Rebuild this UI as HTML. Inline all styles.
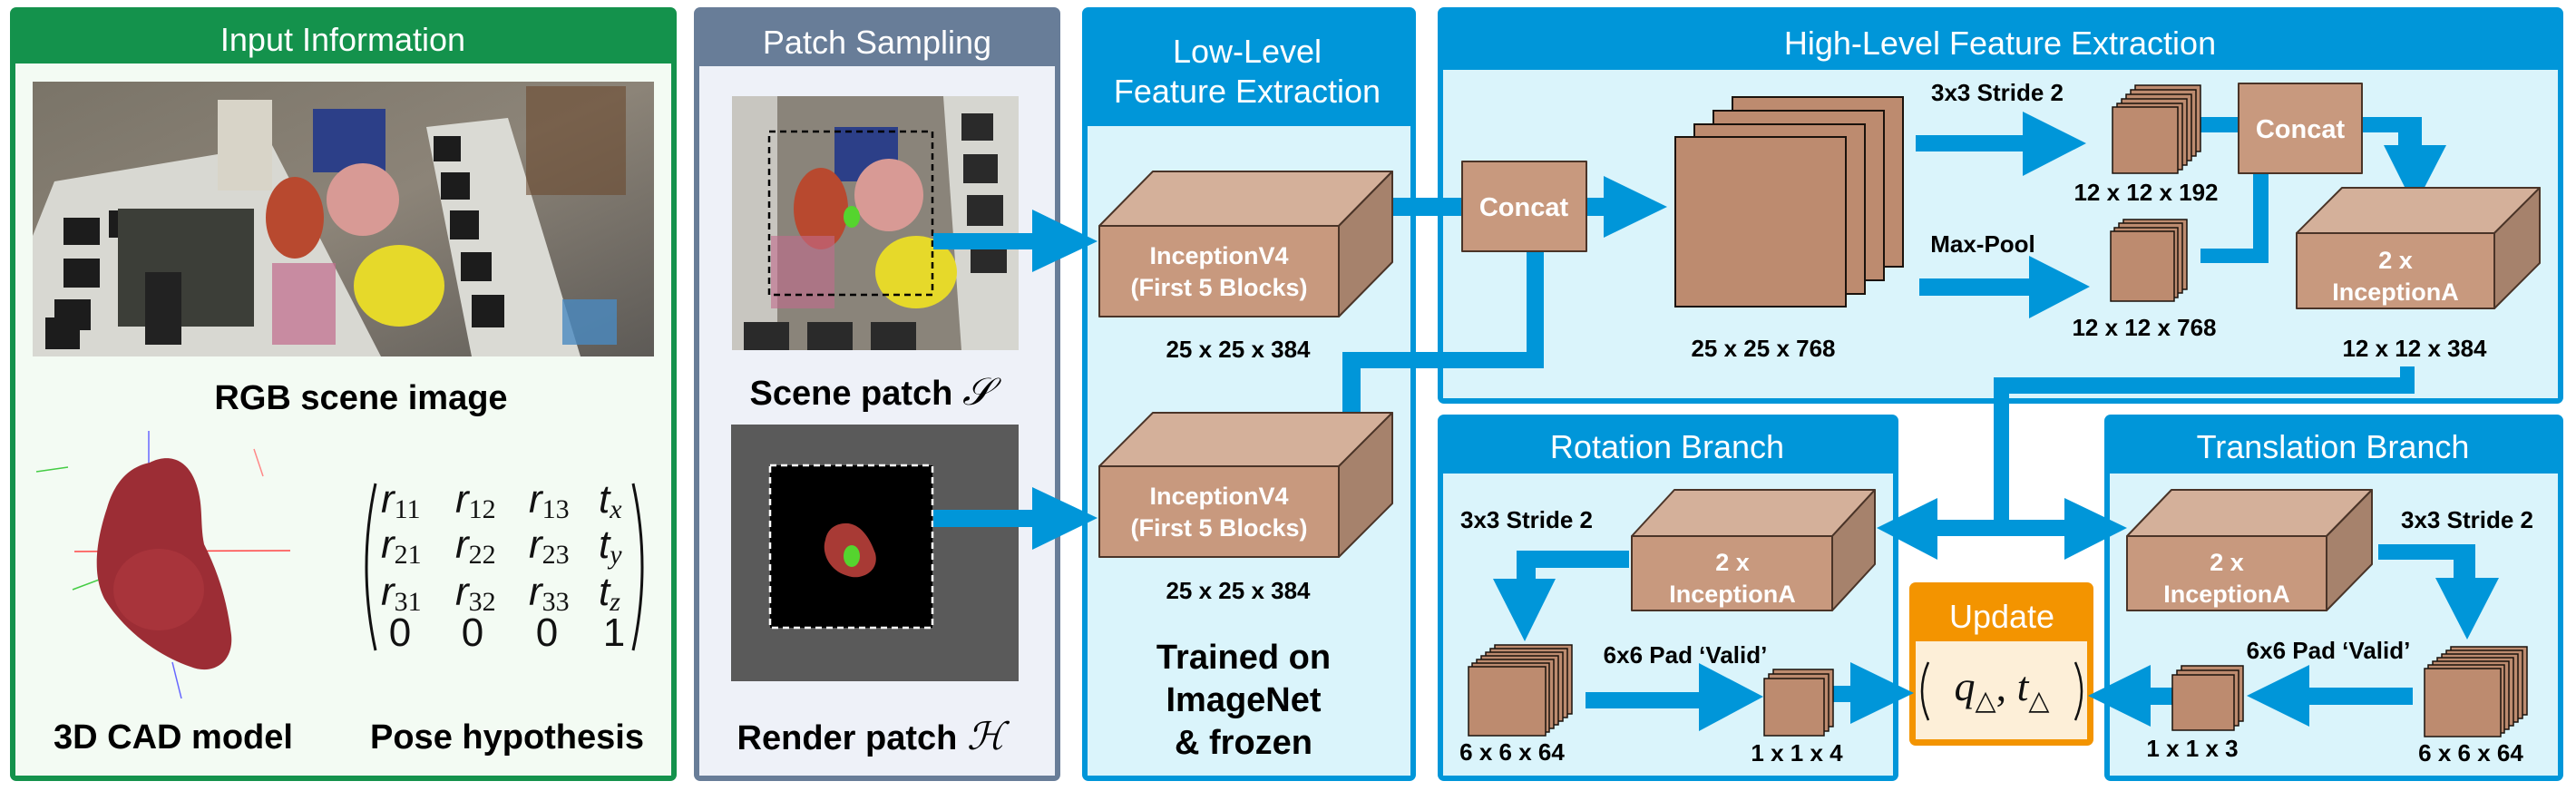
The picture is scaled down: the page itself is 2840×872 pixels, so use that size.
<!DOCTYPE html>
<html><head><meta charset="utf-8"><style>
html,body{margin:0;padding:0;background:#fff;}
svg{display:block;}
text{font-family:"Liberation Sans",Arial,sans-serif;}
.serif,.serif tspan{font-family:"Liberation Serif","DejaVu Serif",serif;}
</style></head><body>
<svg width="2840" height="872" viewBox="0 0 2840 872" xmlns="http://www.w3.org/2000/svg">
<!-- PANELS -->
<rect x="11" y="8" width="735" height="853" rx="7" fill="#14924c"/>
<rect x="17" y="70" width="723" height="785" fill="#f3fbf3"/>
<text x="378" y="56" font-size="36" fill="#fff" text-anchor="middle">Input Information</text>

<rect x="765" y="8" width="404" height="853" rx="7" fill="#687d98"/>
<rect x="771" y="73" width="392" height="782" fill="#eef1f8"/>
<text x="967" y="59" font-size="36" fill="#fff" text-anchor="middle">Patch Sampling</text>

<rect x="1193" y="8" width="368" height="853" rx="7" fill="#0096d9"/>
<rect x="1199" y="139" width="356" height="716" fill="#daf4fb"/>
<text x="1375" y="69" font-size="36" fill="#fff" text-anchor="middle">Low-Level</text>
<text x="1375" y="113" font-size="36" fill="#fff" text-anchor="middle">Feature Extraction</text>

<rect x="1585" y="8" width="1241" height="437" rx="7" fill="#0096d9"/>
<rect x="1591" y="77" width="1229" height="362" fill="#daf4fb"/>
<text x="2205" y="60" font-size="36" fill="#fff" text-anchor="middle">High-Level Feature Extraction</text>

<rect x="1585" y="457" width="508" height="404" rx="7" fill="#0096d9"/>
<rect x="1591" y="522" width="496" height="333" fill="#daf4fb"/>
<text x="1838" y="505" font-size="36" fill="#fff" text-anchor="middle">Rotation Branch</text>

<rect x="2320" y="457" width="506" height="404" rx="7" fill="#0096d9"/>
<rect x="2326" y="522" width="494" height="333" fill="#daf4fb"/>
<text x="2572" y="505" font-size="36" fill="#fff" text-anchor="middle">Translation Branch</text>

<rect x="2105" y="642" width="203" height="180" rx="7" fill="#f39400"/>
<rect x="2112" y="707" width="189" height="108" fill="#fdefd8"/>
<text x="2207" y="692" font-size="36" fill="#fff" text-anchor="middle">Update</text>
<path d="M2126,730 Q2112,762 2126,794" stroke="#111" stroke-width="2.5" fill="none"/>
<path d="M2288,730 Q2302,762 2288,794" stroke="#111" stroke-width="2.5" fill="none"/>
<text class="serif" x="2207" y="772" font-size="46" fill="#111" text-anchor="middle" font-style="italic">q<tspan font-size="30" font-style="normal" dy="10">△</tspan><tspan dy="-10" font-style="normal">, </tspan>t<tspan font-size="30" font-style="normal" dy="10">△</tspan></text>

<!-- INPUT: photo -->
<defs>
<linearGradient id="ph" x1="0" y1="0" x2="1" y2="1"><stop offset="0" stop-color="#7a7468"/><stop offset=".5" stop-color="#8c8478"/><stop offset="1" stop-color="#5d5a56"/></linearGradient>
</defs>
<rect x="36" y="90" width="685" height="303" fill="url(#ph)"/>
<polygon points="60,200 300,160 420,393 36,393 36,260" fill="#d8d8d2"/>
<polygon points="470,140 560,130 640,393 520,393" fill="#dadad4"/>
<g fill="#1c1c1c">
<rect x="70" y="240" width="40" height="30"/><rect x="120" y="232" width="40" height="30"/><rect x="70" y="285" width="40" height="32"/><rect x="60" y="330" width="40" height="34"/><rect x="50" y="350" width="38" height="35"/>
<rect x="478" y="150" width="30" height="28"/><rect x="486" y="190" width="32" height="30"/><rect x="496" y="232" width="32" height="32"/><rect x="508" y="278" width="34" height="32"/><rect x="520" y="325" width="36" height="36"/>
</g>
<rect x="130" y="230" width="150" height="130" fill="#3c3e38"/>
<rect x="160" y="300" width="40" height="80" fill="#222"/>
<rect x="240" y="110" width="60" height="100" fill="#d8d4c8"/>
<rect x="345" y="120" width="80" height="70" fill="#2c3f88"/>
<ellipse cx="325" cy="240" rx="32" ry="45" fill="#b8492f"/>
<ellipse cx="400" cy="220" rx="40" ry="40" fill="#d89a95"/>
<ellipse cx="440" cy="315" rx="50" ry="45" fill="#e6d92a"/>
<rect x="300" y="290" width="70" height="90" fill="#c26b8c" opacity=".7"/>
<rect x="580" y="95" width="110" height="120" fill="#6b4a2e" opacity=".6"/>
<rect x="620" y="330" width="60" height="50" fill="#4a8ac0" opacity=".8"/>
<text x="398" y="451" font-size="38" font-weight="bold" fill="#000" text-anchor="middle">RGB scene image</text>

<!-- CAD model -->
<g stroke-width="1.5" fill="none">
<line x1="164" y1="475" x2="164" y2="580" stroke="#66f"/>
<line x1="80" y1="650" x2="200" y2="605" stroke="#4c4"/>
<line x1="82" y1="608" x2="320" y2="607" stroke="#f44"/>
<line x1="40" y1="520" x2="75" y2="515" stroke="#4c4"/>
<line x1="190" y1="730" x2="200" y2="770" stroke="#66f"/>
<line x1="280" y1="495" x2="290" y2="525" stroke="#f88"/>
</g>
<path d="M165,510 C185,500 205,505 215,530 C225,555 220,575 225,600 C240,630 250,660 255,700 C258,730 235,745 210,735 C180,725 140,700 115,660 C100,630 108,590 118,560 C125,535 140,515 165,510 Z" fill="#9c2d35"/>
<ellipse cx="175" cy="650" rx="50" ry="45" fill="#a8343b"/>

<!-- matrix -->
<path d="M414,533 Q394,625 414,717" stroke="#111" stroke-width="3" fill="none"/>
<path d="M698,533 Q718,625 698,717" stroke="#111" stroke-width="3" fill="none"/>
<g class="serif" font-size="44" fill="#111">
<g font-style="italic">
<text x="420" y="565">r<tspan font-size="30" font-style="normal" dy="6">11</tspan></text>
<text x="502" y="565">r<tspan font-size="30" font-style="normal" dy="6">12</tspan></text>
<text x="583" y="565">r<tspan font-size="30" font-style="normal" dy="6">13</tspan></text>
<text x="660" y="565">t<tspan font-size="30" dy="6">x</tspan></text>
<text x="420" y="615">r<tspan font-size="30" font-style="normal" dy="6">21</tspan></text>
<text x="502" y="615">r<tspan font-size="30" font-style="normal" dy="6">22</tspan></text>
<text x="583" y="615">r<tspan font-size="30" font-style="normal" dy="6">23</tspan></text>
<text x="660" y="615">t<tspan font-size="30" dy="6">y</tspan></text>
<text x="420" y="667">r<tspan font-size="30" font-style="normal" dy="6">31</tspan></text>
<text x="502" y="667">r<tspan font-size="30" font-style="normal" dy="6">32</tspan></text>
<text x="583" y="667">r<tspan font-size="30" font-style="normal" dy="6">33</tspan></text>
<text x="660" y="667">t<tspan font-size="30" dy="6">z</tspan></text>
</g>
<g text-anchor="middle"><text x="441" y="712">0</text><text x="521" y="712">0</text><text x="603" y="712">0</text><text x="677" y="712">1</text></g>
</g>
<text x="191" y="825" font-size="38" font-weight="bold" text-anchor="middle">3D CAD model</text>
<text x="559" y="825" font-size="38" font-weight="bold" text-anchor="middle">Pose hypothesis</text>

<!-- Patch sampling -->
<rect x="807" y="106" width="316" height="280" fill="#8a847a"/>
<rect x="807" y="106" width="50" height="280" fill="#c8c6c0"/>
<polygon points="1040,106 1123,106 1123,386 1060,386" fill="#d6d6d0"/>
<g fill="#2a2a2a"><rect x="1060" y="125" width="35" height="30"/><rect x="1062" y="170" width="38" height="32"/><rect x="1066" y="215" width="40" height="34"/><rect x="1070" y="265" width="40" height="36"/><rect x="820" y="355" width="50" height="31"/><rect x="890" y="355" width="50" height="31"/><rect x="960" y="355" width="50" height="31"/></g>
<rect x="920" y="140" width="70" height="60" fill="#2c3f88"/>
<ellipse cx="905" cy="230" rx="30" ry="45" fill="#b8492f"/>
<ellipse cx="980" cy="215" rx="38" ry="40" fill="#d89a95"/>
<ellipse cx="1010" cy="300" rx="45" ry="40" fill="#e6d92a"/>
<rect x="850" y="260" width="70" height="80" fill="#c26b8c" opacity=".6"/>
<rect x="848" y="145" width="180" height="180" fill="none" stroke="#000" stroke-width="2.5" stroke-dasharray="7,5"/>
<ellipse cx="939" cy="239" rx="9" ry="12" fill="#55d42e"/>
<text x="960" y="446" font-size="38" font-weight="bold" text-anchor="middle">Scene patch <tspan class="serif" font-style="italic" font-weight="normal" font-size="42">𝒮</tspan></text>

<rect x="806" y="468" width="317" height="283" fill="#5a5a5a"/>
<rect x="849" y="513" width="179" height="179" fill="#000" stroke="#fff" stroke-width="2.5" stroke-dasharray="7,5"/>
<path d="M925,578 C945,572 958,590 965,610 C970,630 950,640 935,635 C915,630 905,610 910,595 C912,585 918,580 925,578Z" fill="#a83a35"/>
<ellipse cx="939" cy="613" rx="9" ry="12" fill="#55d42e"/>
<text x="960" y="826" font-size="38" font-weight="bold" text-anchor="middle">Render patch <tspan class="serif" font-style="italic" font-weight="normal" font-size="42">ℋ</tspan></text>

<!-- BLUE CONNECTORS/ARROWS -->
<g fill="#0096d9">
<rect x="1029" y="257" width="130" height="18"/><polygon points="1138,231 1210,266 1138,300"/>
<rect x="1029" y="562" width="130" height="19"/><polygon points="1138,537 1210,571 1138,606"/>
<rect x="1515" y="218" width="100" height="20"/>
<rect x="1683" y="270" width="19" height="136"/><rect x="1480" y="388" width="222" height="18"/><rect x="1480" y="388" width="20" height="90"/>
<rect x="1749" y="218" width="25" height="20"/><polygon points="1768,194 1838,228 1768,262"/>
<rect x="2112" y="149" width="125" height="18"/><polygon points="2230,123 2300,158 2230,194"/>
<rect x="2116" y="307" width="125" height="19"/><polygon points="2237,282 2304,316 2237,351"/>
<rect x="2401" y="129" width="70" height="17"/>
<rect x="2426" y="274" width="75" height="16"/><rect x="2484" y="188" width="17" height="102"/>
<rect x="2604" y="129" width="66" height="17"/><rect x="2644" y="129" width="26" height="40"/><polygon points="2628,160 2697,160 2662,228"/>
<rect x="2646" y="404" width="16" height="30"/><rect x="2198" y="416" width="464" height="18"/><rect x="2198" y="416" width="17" height="175"/>
<rect x="2130" y="573" width="150" height="18"/><polygon points="2136,549 2069,582 2136,617"/><polygon points="2276,549 2345,582 2276,617"/>
<rect x="1672" y="607" width="124" height="19"/><rect x="1672" y="607" width="21" height="40"/><polygon points="1646,638 1715,638 1681,707"/>
<rect x="1748" y="763" width="130" height="18"/><polygon points="1873,731 1944,768 1873,806"/>
<rect x="2011" y="756" width="32" height="18"/><polygon points="2040,730 2110,764 2040,798"/>
<rect x="2622" y="600" width="107" height="17"/><rect x="2705" y="600" width="24" height="40"/><polygon points="2685,637 2755,637 2720,705"/>
<rect x="2540" y="758" width="120" height="19"/><polygon points="2546,733 2477,767 2546,801"/>
<rect x="2365" y="758" width="32" height="19"/><polygon points="2371,733 2302,767 2371,801"/>
</g>

<!-- CUBES -->
<g stroke="#4a3428" stroke-width="2" stroke-linejoin="round">
<polygon points="1212,249 1271,189 1535,189 1476,249" fill="#d4b09a"/>
<polygon points="1476,249 1535,189 1535,289 1476,349" fill="#a6826c"/>
<rect x="1212" y="249" width="264" height="100" fill="#c8997e"/>
<polygon points="1212,514 1271,455 1535,455 1476,514" fill="#d4b09a"/>
<polygon points="1476,514 1535,455 1535,555 1476,614" fill="#a6826c"/>
<rect x="1212" y="514" width="264" height="100" fill="#c8997e"/>
<polygon points="2532,257 2582,207 2800,207 2750,257" fill="#d4b09a"/>
<polygon points="2750,257 2800,207 2800,290 2750,340" fill="#a6826c"/>
<rect x="2532" y="257" width="218" height="83" fill="#c8997e"/>
<polygon points="1799,591 1846,540 2067,540 2020,591" fill="#d4b09a"/>
<polygon points="2020,591 2067,540 2067,622 2020,673" fill="#a6826c"/>
<rect x="1799" y="591" width="221" height="82" fill="#c8997e"/>
<polygon points="2345,591 2394,540 2615,540 2565,591" fill="#d4b09a"/>
<polygon points="2565,591 2615,540 2615,622 2565,673" fill="#a6826c"/>
<rect x="2345" y="591" width="220" height="82" fill="#c8997e"/>
<rect x="1612" y="178" width="137" height="99" fill="#c8997e"/>
<rect x="2468" y="92" width="136" height="99" fill="#c8997e"/>
</g>
<!-- stacks -->
<g stroke="#1a120c" stroke-width="2" fill="#bd8b6f">
<rect x="1910" y="107" width="188" height="187"/><rect x="1889" y="122" width="188" height="187"/><rect x="1868" y="137" width="188" height="187"/><rect x="1847" y="151" width="188" height="187"/>
</g>
<g stroke="#1a120c" stroke-width="1.5" fill="#bd8b6f">
<rect x="2354" y="94" width="72" height="73"/><rect x="2349" y="99" width="72" height="73"/><rect x="2344" y="104" width="72" height="73"/><rect x="2339" y="109" width="72" height="73"/><rect x="2334" y="114" width="72" height="73"/><rect x="2329" y="118" width="72" height="73"/>
<rect x="2341" y="242" width="70" height="77"/><rect x="2336" y="246" width="70" height="77"/><rect x="2331" y="251" width="70" height="77"/><rect x="2327" y="255" width="70" height="77"/>
<rect x="1648" y="711" width="85" height="76"/><rect x="1643" y="715" width="85" height="76"/><rect x="1638" y="719" width="85" height="76"/><rect x="1633" y="723" width="85" height="76"/><rect x="1628" y="727" width="85" height="76"/><rect x="1623" y="731" width="85" height="76"/><rect x="1619" y="735" width="85" height="76"/>
<rect x="1955" y="738" width="66" height="63"/><rect x="1950" y="743" width="66" height="63"/><rect x="1945" y="748" width="66" height="63"/>
<rect x="2702" y="713" width="84" height="75"/><rect x="2697" y="717" width="84" height="75"/><rect x="2692" y="721" width="84" height="75"/><rect x="2687" y="725" width="84" height="75"/><rect x="2682" y="729" width="84" height="75"/><rect x="2677" y="733" width="84" height="75"/><rect x="2673" y="737" width="84" height="75"/>
<rect x="2405" y="734" width="68" height="61"/><rect x="2400" y="739" width="68" height="61"/><rect x="2395" y="744" width="68" height="61"/>
</g>

<!-- white labels -->
<g fill="#fff" font-size="27" font-weight="bold" text-anchor="middle">
<text x="1344" y="291">InceptionV4</text><text x="1344" y="326">(First 5 Blocks)</text>
<text x="1344" y="556">InceptionV4</text><text x="1344" y="591">(First 5 Blocks)</text>
<text x="1680" y="238" font-size="29">Concat</text>
<text x="2536" y="152" font-size="29">Concat</text>
<text x="2641" y="296">2 x</text><text x="2641" y="331">InceptionA</text>
<text x="1910" y="629">2 x</text><text x="1910" y="664">InceptionA</text>
<text x="2455" y="629">2 x</text><text x="2455" y="664">InceptionA</text>
</g>
<!-- black labels -->
<g fill="#000" font-size="26" font-weight="bold" text-anchor="middle">
<text x="1365" y="394">25 x 25 x 384</text>
<text x="1365" y="660">25 x 25 x 384</text>
<text x="1944" y="393">25 x 25 x 768</text>
<text x="2202" y="111">3x3 Stride 2</text>
<text x="2186" y="278">Max-Pool</text>
<text x="2366" y="221">12 x 12 x 192</text>
<text x="2364" y="370">12 x 12 x 768</text>
<text x="2662" y="393">12 x 12 x 384</text>
<text x="1683" y="582">3x3 Stride 2</text>
<text x="1858" y="731">6x6 Pad ‘Valid’</text>
<text x="1667" y="838">6 x 6 x 64</text>
<text x="1981" y="839">1 x 1 x 4</text>
<text x="2720" y="582">3x3 Stride 2</text>
<text x="2567" y="726">6x6 Pad ‘Valid’</text>
<text x="2724" y="839">6 x 6 x 64</text>
<text x="2417" y="834">1 x 1 x 3</text>
<g font-size="38"><text x="1371" y="737">Trained on</text><text x="1371" y="784">ImageNet</text><text x="1371" y="831">&amp; frozen</text></g>
</g>
</svg>
</body></html>
